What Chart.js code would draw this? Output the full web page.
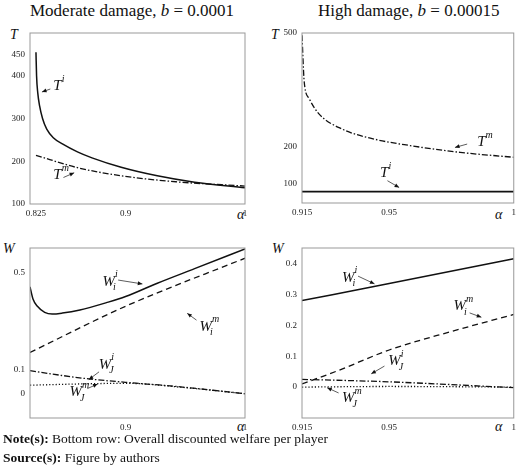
<!DOCTYPE html>
<html>
<head>
<meta charset="utf-8">
<script src="https://cdn.jsdelivr.net/npm/chart.js@4"></script>
<style>
  body { margin: 0; background: #fff; font-family: "Liberation Serif", "DejaVu Serif", serif; }
  #wrap { position: relative; width: 520px; height: 470px; }
  .cv { position: absolute; }
  .t { position: absolute; white-space: nowrap; color: #111; }
  .title { font-size: 17px; top: 1px; }
  .ax { font-style: italic; font-size: 14px; }
  .note { font-size: 13.5px; left: 3px; }
</style>
</head>
<body>
<div id="wrap">
  <div class="t title" style="left:30px">Moderate damage, <i>b</i> = 0.0001</div>
  <div class="t title" style="left:318px">High damage, <i>b</i> = 0.00015</div>
  <div class="t ax" style="left:10px;top:27px">T</div>
  <div class="t ax" style="left:271px;top:27px">T</div>
  <div class="t ax" style="left:3px;top:241px">W</div>
  <div class="t ax" style="left:272px;top:241px">W</div>
  <div class="t ax" style="left:237px;top:207px">α</div>
  <div class="t ax" style="left:495px;top:207px">α</div>
  <div class="t ax" style="left:237px;top:419px">α</div>
  <div class="t ax" style="left:495px;top:419px">α</div>
  <canvas id="c1" class="cv" style="left:0;top:25px"></canvas>
  <canvas id="c2" class="cv" style="left:272px;top:25px"></canvas>
  <canvas id="c3" class="cv" style="left:0;top:240px"></canvas>
  <canvas id="c4" class="cv" style="left:272px;top:240px"></canvas>
  <div class="t note" style="top:431px"><b>Note(s):</b> Bottom row: Overall discounted welfare per player</div>
  <div class="t note" style="top:450px"><b>Source(s):</b> Figure by authors</div>
</div>
<script>
// Moderate damage, T
const tiModX = [0.825, 0.8255, 0.8265, 0.828, 0.8305, 0.834, 0.8395, 0.8475, 0.8597, 0.8719, 0.8963, 0.9266, 0.9578, 1];
const tiModY = [455, 400, 360, 330, 300, 275, 255, 240, 222, 208, 186, 166, 151, 138];
const tmModX = [0.825, 0.8597, 0.8963, 0.9422, 1];
const tmModY = [214, 185, 166, 152, 142];
// High damage, T
const tmHighX = [0.915, 0.9159, 0.9179, 0.9218, 0.931, 0.9441, 0.9584, 0.9785, 1];
const tmHighY = [494, 370, 326, 286, 246, 219, 202, 184, 171];
const tiHighX = [0.915, 1];
const tiHighY = [80, 80];
// Moderate damage, W
const wiiModX = [0.82, 0.8225, 0.8262, 0.8323, 0.8385, 0.8471, 0.8618, 0.884, 0.9, 0.9266, 0.9578, 1];
const wiiModY = [0.44, 0.39, 0.36, 0.335, 0.328, 0.332, 0.345, 0.375, 0.4, 0.455, 0.515, 0.596];
const wimModX = [0.82, 0.9, 1];
const wimModY = [0.17, 0.36, 0.558];
const wjiModX = [0.82, 0.847, 0.871, 0.9, 0.942, 1];
const wjiModY = [0.095, 0.075, 0.06, 0.047, 0.03, 0];
const wjmModX = [0.82, 0.86, 0.9, 0.95, 1];
const wjmModY = [0.035, 0.04, 0.043, 0.025, 0];
// High damage, W
const wiiHighX = [0.915, 0.95, 1];
const wiiHighY = [0.28, 0.335, 0.415];
const wimHighX = [0.915, 0.93, 0.95, 0.975, 1];
const wimHighY = [0.01, 0.055, 0.12, 0.18, 0.235];
const wjiHighX = [0.915, 0.95, 1];
const wjiHighY = [0.025, 0.017, -0.002];
const wjmHighX = [0.915, 0.95, 1];
const wjmHighY = [0, 0.002, 0];
// tick labels
const xTicksMod = [0.825, 0.9, 1];
const xTicksModW = [0.9, 1];
const xTicksHigh = [0.915, 0.95, 1];
const yTicksTMod = [100, 200, 300, 400, 450];
const yTicksTHigh = [100, 200, 500];
const yTicksWMod = [0, 0.1, 0.5];
const yTicksWHigh = [0, 0.1, 0.2, 0.3, 0.4];

const pts = (xs, ys) => xs.map((x, i) => ({ x: x, y: ys[i] }));

const SOLID = [], DASHDOT = [6, 2, 1.5, 2], DASH = [6, 4], DOT = [1.2, 2];

// frame + annotation labels with arrows
const framePlugin = {
  id: "frame",
  afterDraw(chart) {
    const { ctx, chartArea: a, scales } = chart;
    ctx.save();
    ctx.strokeStyle = "#999";
    ctx.lineWidth = 1;
    ctx.strokeRect(a.left, a.top, a.right - a.left, a.bottom - a.top);
    const labs = chart.options.plugins.frame.labels || [];
    labs.forEach((l) => {
      const px = (v) => scales.x.getPixelForValue(v);
      const py = (v) => scales.y.getPixelForValue(v);
      ctx.fillStyle = "#111";
      ctx.font = "italic 15px 'Liberation Serif', serif";
      ctx.textBaseline = "middle";
      const tx = px(l.t[0]), ty = py(l.t[1]);
      const w = ctx.measureText(l.base).width;
      ctx.fillText(l.base, tx - w / 2, ty);
      ctx.font = "italic 10px 'Liberation Serif', serif";
      if (l.sup) ctx.fillText(l.sup, tx + w / 2, ty - 7);
      if (l.sub) ctx.fillText(l.sub, tx + w / 2 - 2, ty + 6);
      // arrow
      const x0 = px(l.a[0]), y0 = py(l.a[1]), x1 = px(l.b[0]), y1 = py(l.b[1]);
      ctx.strokeStyle = "#333";
      ctx.lineWidth = 0.8;
      ctx.beginPath(); ctx.moveTo(x0, y0); ctx.lineTo(x1, y1); ctx.stroke();
      const ang = Math.atan2(y1 - y0, x1 - x0);
      ctx.beginPath();
      ctx.moveTo(x1, y1);
      ctx.lineTo(x1 - 5 * Math.cos(ang - 0.4), y1 - 5 * Math.sin(ang - 0.4));
      ctx.lineTo(x1 - 5 * Math.cos(ang + 0.4), y1 - 5 * Math.sin(ang + 0.4));
      ctx.closePath(); ctx.fill();
    });
    ctx.restore();
  },
};

function ds(data, dash, width) {
  return {
    data: data, borderColor: "#111", borderWidth: width || 1.4, borderDash: dash,
    pointRadius: 0, fill: false, tension: 0.35, cubicInterpolationMode: "monotone",
  };
}

function makeChart(id, height, xr, yr, xt, yt, datasets, labels, rightPad) {
  const el = document.getElementById(id);
  el.width = 260 - (id === "c2" || id === "c4" ? 12 : 0);
  el.height = height;
  el.style.width = el.width + "px";
  el.style.height = height + "px";
  const tickFont = { family: "'Liberation Serif', serif", size: 9 };
  return new Chart(el, {
    type: "line",
    data: { datasets: datasets },
    plugins: [framePlugin],
    options: {
      responsive: false, animation: false,
      layout: { padding: { top: 8, right: rightPad, left: 0, bottom: 0 } },
      plugins: { legend: { display: false }, tooltip: { enabled: false }, frame: { labels: labels } },
      scales: {
        x: {
          type: "linear", min: xr[0], max: xr[1],
          afterBuildTicks: (s) => { s.ticks = xt.map((v) => ({ value: v })); },
          afterFit: (s) => { s.height = 22; },
          grid: { display: false, drawTicks: false }, border: { display: false },
          ticks: { font: tickFont, color: "#222", padding: 4, maxRotation: 0, callback: (v) => String(v) },
        },
        y: {
          type: "linear", min: yr[0], max: yr[1],
          afterBuildTicks: (s) => { s.ticks = yt.map((v) => ({ value: v })); },
          afterFit: (s) => { s.width = 30; },
          grid: { display: false, drawTicks: true, tickLength: 3, color: "#666" }, border: { display: false },
          ticks: { font: tickFont, color: "#222", padding: 2, callback: (v) => String(v) },
        },
      },
    },
  });
}

makeChart("c1", 201, [0.82, 1], [100, 500], xTicksMod, yTicksTMod, [
  ds(pts(tiModX, tiModY), SOLID, 1.5),
  ds(pts(tmModX, tmModY), DASHDOT, 1.3),
], [
  { base: "T", sup: "i", t: [0.843, 376], a: [0.837, 369], b: [0.830, 362] },
  { base: "T", sup: "m", t: [0.843, 168], a: [0.848, 162], b: [0.857, 173] },
], 15);

makeChart("c2", 200, [0.915, 1], [50, 500], xTicksHigh, yTicksTHigh, [
  ds(pts(tiHighX, tiHighY), SOLID, 1.6),
  ds(pts(tmHighX, tmHighY), DASHDOT, 1.3),
], [
  { base: "T", sup: "m", t: [0.987, 211], a: [0.9813, 206], b: [0.9764, 197] },
  { base: "T", sup: "i", t: [0.948, 128], a: [0.9493, 109], b: [0.954, 91] },
], 3);

makeChart("c3", 200, [0.82, 1], [-0.1, 0.6], xTicksModW, yTicksWMod, [
  ds(pts(wiiModX, wiiModY), SOLID, 1.5),
  ds(pts(wimModX, wimModY), DASH, 1.3),
  ds(pts(wjiModX, wjiModY), DASHDOT, 1.3),
  ds(pts(wjmModX, wjmModY), DOT, 1.3),
], [
  { base: "W", sup: "i", sub: "i", t: [0.886, 0.461], a: [0.8938, 0.468], b: [0.9141, 0.452] },
  { base: "W", sup: "m", sub: "i", t: [0.9672, 0.276], a: [0.9594, 0.303], b: [0.9516, 0.331] },
  { base: "W", sup: "i", sub: "J", t: [0.8828, 0.12], a: [0.8778, 0.09], b: [0.8692, 0.058] },
  { base: "W", sup: "m", sub: "J", t: [0.8582, 0.007], a: [0.868, 0.021], b: [0.8766, 0.04] },
], 15);

makeChart("c4", 200, [0.915, 1], [-0.1, 0.45], xTicksHigh, yTicksWHigh, [
  ds(pts(wiiHighX, wiiHighY), SOLID, 1.5),
  ds(pts(wimHighX, wimHighY), DASH, 1.3),
  ds(pts(wjiHighX, wjiHighY), DASHDOT, 1.3),
  ds(pts(wjmHighX, wjmHighY), DOT, 1.3),
], [
  { base: "W", sup: "i", sub: "i", t: [0.9336, 0.354], a: [0.9375, 0.359], b: [0.9441, 0.334] },
  { base: "W", sup: "m", sub: "i", t: [0.9783, 0.262], a: [0.9823, 0.24], b: [0.987, 0.226] },
  { base: "W", sup: "i", sub: "J", t: [0.9521, 0.084], a: [0.9481, 0.068], b: [0.9428, 0.043] },
  { base: "W", sup: "m", sub: "J", t: [0.9336, -0.035], a: [0.9297, -0.019], b: [0.9251, -0.002] },
], 3);
</script>
</body>
</html>
